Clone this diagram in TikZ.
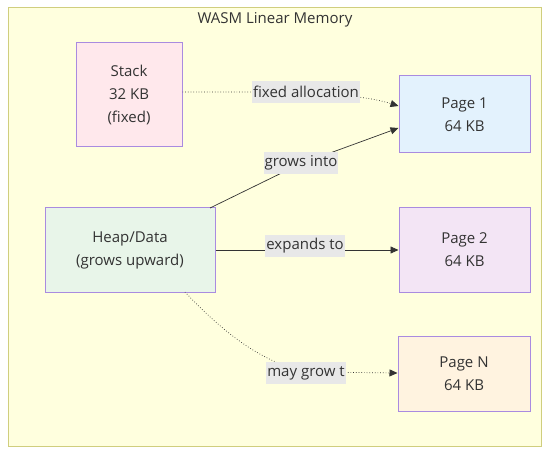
\documentclass[tikz,border=0pt]{standalone}
\usepackage{fontspec}
\setmainfont{Open Sans}
\usetikzlibrary{arrows.meta}
\definecolor{clfill}{HTML}{FFFFDE}
\definecolor{cldraw}{HTML}{D0CE7E}
\definecolor{nddraw}{HTML}{A98BE0}
\definecolor{lblbg}{HTML}{E8E8E8}
\definecolor{txt}{HTML}{333333}
\definecolor{stackc}{HTML}{FFE8EC}
\definecolor{pageone}{HTML}{E3F2FD}
\definecolor{heapc}{HTML}{E8F5E9}
\definecolor{pagetwo}{HTML}{F3E5F5}
\definecolor{pagen}{HTML}{FFF3E0}
\begin{document}
\begin{tikzpicture}[x=1pt,y=-1pt,
  box/.style={draw=nddraw,line width=1pt,align=center,text=txt,font=\fontsize{15}{23}\selectfont,inner sep=0pt},
  lbl/.style={fill=lblbg,text=txt,font=\fontsize{15}{16}\selectfont,inner sep=1pt,minimum height=22pt},
  conn/.style={draw=txt,line width=0.7pt,-{Triangle[length=8pt,width=7pt]}},
  dot/.style={conn,dotted}]
\useasboundingbox (0,0) rectangle (558,460);
\draw[fill=clfill,draw=cldraw,line width=1pt] (8,8) rectangle (541,446);
\node[text=txt,font=\fontsize{15}{16}\selectfont] (title) at (275,20) {WASM Linear Memory};
\node[box,fill=stackc,minimum width=106pt,minimum height=104pt] (stack) at (129,95) {Stack\\32 KB\\(fixed)};
\node[box,fill=pageone,minimum width=131pt,minimum height=77pt] (p1) at (464.5,114.5) {Page 1\\64 KB};
\node[box,fill=heapc,minimum width=170pt,minimum height=84pt] (heap) at (130,250) {Heap/Data\\(grows upward)};
\node[box,fill=pagetwo,minimum width=131pt,minimum height=84pt] (p2) at (464.5,250) {Page 2\\64 KB};
\node[box,fill=pagen,minimum width=132pt,minimum height=75pt] (pn) at (464,373.5) {Page N\\64 KB};
% edges
\coordinate (sa) at (stack.east |- 0,92);
\draw[dot] (sa) -- (250,92) .. controls (330,92) and (370,97) .. (p1.west |- 0,106);
\node[lbl] (l1) at (306,92) {fixed allocation};
\coordinate (hb) at (210,208);
\draw[conn] (hb) -- (300,164) -- (p1.west |- 0,128);
\node[lbl] (l2) at (301,163) {grows into};
\draw[conn] (heap.east) -- (p2.west);
\node[lbl] (l3) at (305,246) {expands to};
\coordinate (hd) at (185,292);
\draw[dot] (hd) .. controls (230,340) and (270,366) .. (310,372) -- (pn.west |- 0,373);
\node[lbl] (l4) at (306,373) {may grow t};
\end{tikzpicture}
\end{document}
